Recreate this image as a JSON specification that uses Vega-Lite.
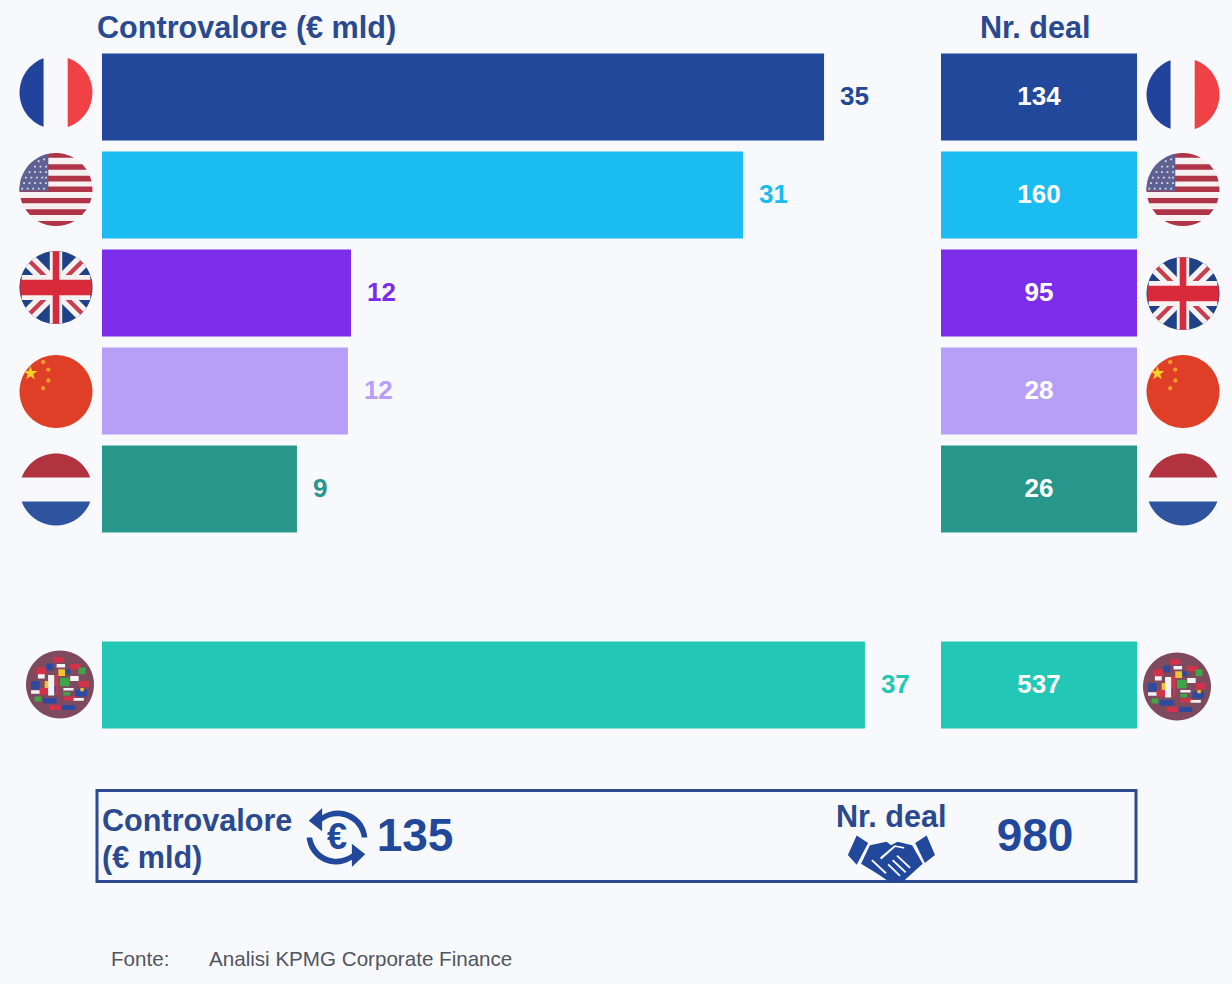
{"$schema":"https://vega.github.io/schema/vega-lite/v6.json","padding":{"left":0,"right":0,"top":14,"bottom":1.5},"spacing":0,"background":"#f8f9fd","config":{"view":{"stroke":null},"concat":{"spacing":0},"font":"Liberation Sans","text":{"font":"Liberation Sans"}},
"datasets":{
"rows":[{"paese":"Francia","controvalore":35.0,"deal":134},{"paese":"USA","controvalore":31.07,"deal":160},{"paese":"UK","controvalore":12.07,"deal":95},{"paese":"Cina","controvalore":11.92,"deal":28},{"paese":"Olanda","controvalore":9.45,"deal":26},{"paese":"Altri","controvalore":36.98,"deal":537}],
"flags":[{"paese":"Francia","parte":"fr_base"},{"paese":"Francia","parte":"fr_blu"},{"paese":"Francia","parte":"fr_rosso"},
{"paese":"USA","parte":"us_base"},{"paese":"USA","parte":"us_strisce"},{"paese":"USA","parte":"us_cantone"},{"paese":"USA","parte":"us_stelle"},
{"paese":"UK","parte":"uk_base"},{"paese":"UK","parte":"uk_diag_b"},{"paese":"UK","parte":"uk_diag_r"},{"paese":"UK","parte":"uk_croce_b"},{"paese":"UK","parte":"uk_croce_r"},
{"paese":"Cina","parte":"cn_base"},{"paese":"Cina","parte":"cn_stella"},{"paese":"Cina","parte":"cn_punti"},
{"paese":"Olanda","parte":"nl_base"},{"paese":"Olanda","parte":"nl_rosso"},{"paese":"Olanda","parte":"nl_blu"},
{"paese":"Altri","parte":"w_base"},{"paese":"Altri","parte":"w_rosso"},{"paese":"Altri","parte":"w_blu"},{"paese":"Altri","parte":"w_bianco"},{"paese":"Altri","parte":"w_verde"},{"paese":"Altri","parte":"w_giallo"}]
},
"vconcat":[
{"hconcat":[
{"width":940,"height":686,
"title":{"text":"Controvalore (€ mld)","anchor":"start","frame":"group","dx":97,"offset":3,"fontSize":30.6,"font":"Liberation Sans","fontWeight":"bold","color":"#2a4a8f"},
"layer":[
{"data":{"name":"rows"},"mark":{"type":"bar"},"encoding":{
"y":{"field":"paese","type":"nominal","axis":null,"sort":null,"scale":{"domain":["Francia","USA","UK","Cina","Olanda"," ","Altri"],"paddingInner":0.112,"paddingOuter":0.056}},
"x":{"field":"controvalore","type":"quantitative","axis":null,"scale":{"domain":[-4.944,40.62],"zero":false,"nice":false}},
"color":{"field":"paese","type":"nominal","legend":null,"scale":{"domain":["Francia","USA","UK","Cina","Olanda","Altri"],"range":["#21489a","#1bbcf2","#7c2dea","#b79ff8","#26978a","#22c7b5"]}}}},
{"data":{"name":"rows"},"mark":{"type":"text","align":"left","baseline":"middle","dx":16,"fontSize":26,"fontWeight":"bold"},"encoding":{
"y":{"field":"paese","type":"nominal"},
"x":{"field":"controvalore","type":"quantitative"},
"text":{"field":"controvalore","type":"quantitative","format":".0f"},
"color":{"field":"paese","type":"nominal","legend":null}}},
{"data":{"name":"flags"},
"encoding":{
"y":{"field":"paese","type":"nominal"},
"x":{"datum":-2.23,"type":"quantitative"},
"size":{"value":5329},
"fill":{"field":"parte","type":"nominal","legend":null,"scale":{"domain":["fr_base","fr_blu","fr_rosso","us_base","us_strisce","us_cantone","us_stelle","uk_base","uk_diag_b","uk_diag_r","uk_croce_b","uk_croce_r","cn_base","cn_stella","cn_punti","nl_base","nl_rosso","nl_blu","w_base","w_rosso","w_blu","w_bianco","w_verde","w_giallo"],"range":["#f8f8fd","#22439b","#ef4146","#f7f0f0","#b03448","#5d6292","#d8d9e6","#1f4287","#f6f2f2","#c8404f","#f6f2f2","#d92a3c","#df3f26","#f8d12a","#f29a2e","#f8f8fb","#b23340","#2e549f","#7d4a5e","#d2334a","#2b4aa0","#f2f2f2","#3fa648","#f0c22c"]}},
"shape":{"field":"parte","type":"nominal","legend":null,"scale":{"domain":["fr_base","fr_blu","fr_rosso","us_base","us_strisce","us_cantone","us_stelle","uk_base","uk_diag_b","uk_diag_r","uk_croce_b","uk_croce_r","cn_base","cn_stella","cn_punti","nl_base","nl_rosso","nl_blu","w_base","w_rosso","w_blu","w_bianco","w_verde","w_giallo"],"range":["M-1,0A1,1 0 1 1 1,0A1,1 0 1 1 -1,0Z","M-.34,-.94A1,1 0 0 0 -.34,.94Z","M.32,-.947A1,1 0 0 1 .32,.947Z","M-1,0A1,1 0 1 1 1,0A1,1 0 1 1 -1,0Z","M-.493,-.87A1,1 0 0 1 .493,-.87ZM-.724,-.69L.724,-.69L.842,-.54L-.842,-.54ZM-.927,-.375L.927,-.375L.975,-.22L-.975,-.22ZM-.997,-.08L.997,-.08L.998,.07L-.998,.07ZM-.973,.23L.973,.23L.927,.375L-.927,.375ZM-.842,.54L.842,.54L.714,.7L-.714,.7ZM-.51,.86A1,1 0 0 0 .51,.86Z","M-.21,-.977L-.21,.05L-.999,.05A1,1 0 0 1 -.21,-.977Z","M-.5,-.8h.05v.05h-.05zM-.35,-.85h.05v.05h-.05zM-.6,-.65h.05v.05h-.05zM-.45,-.65h.05v.05h-.05zM-.3,-.65h.05v.05h-.05zM-.75,-.5h.05v.05h-.05zM-.6,-.5h.05v.05h-.05zM-.45,-.5h.05v.05h-.05zM-.3,-.5h.05v.05h-.05zM-.85,-.35h.05v.05h-.05zM-.7,-.35h.05v.05h-.05zM-.55,-.35h.05v.05h-.05zM-.4,-.35h.05v.05h-.05zM-.3,-.35h.05v.05h-.05zM-.9,-.2h.05v.05h-.05zM-.75,-.2h.05v.05h-.05zM-.6,-.2h.05v.05h-.05zM-.45,-.2h.05v.05h-.05zM-.3,-.2h.05v.05h-.05zM-.95,-.05h.05v.05h-.05zM-.8,-.05h.05v.05h-.05zM-.65,-.05h.05v.05h-.05zM-.5,-.05h.05v.05h-.05zM-.35,-.05h.05v.05h-.05z","M-1,0A1,1 0 1 1 1,0A1,1 0 1 1 -1,0Z","M.834,.552A1,1 0 0 1 .552,.834L-.834,-.552A1,1 0 0 1 -.552,-.834ZM-.834,.552A1,1 0 0 0 -.552,.834L.834,-.552A1,1 0 0 0 .552,-.834Z","M.748,.664L.664,.748L-.748,-.664L-.664,-.748ZM-.748,.664L-.664,.748L.748,-.664L.664,-.748Z","M-.17,-.985L.17,-.985L.17,.985L-.17,.985ZM-.94,-.34L.94,-.34L.94,.34L-.94,.34Z","M-.09,-.996L.09,-.996L.09,.996L-.09,.996ZM-.977,-.21L.977,-.21L.977,.21L-.977,.21Z","M-1,0A1,1 0 1 1 1,0A1,1 0 1 1 -1,0Z","M-.70,-.70L-.653,-.565L-.51,-.562L-.624,-.475L-.582,-.338L-.70,-.42L-.818,-.338L-.776,-.475L-.89,-.562L-.747,-.565Z","M-.41,-.81a.06,.06 0 1 0 .12,0a.06,.06 0 1 0 -.12,0ZM-.27,-.6a.06,.06 0 1 0 .12,0a.06,.06 0 1 0 -.12,0ZM-.27,-.3a.06,.06 0 1 0 .12,0a.06,.06 0 1 0 -.12,0ZM-.41,-.09a.06,.06 0 1 0 .12,0a.06,.06 0 1 0 -.12,0Z","M-1,0A1,1 0 1 1 1,0A1,1 0 1 1 -1,0Z","M-.94,-.33A1,1 0 0 1 .94,-.33Z","M-.94,.33A1,1 0 0 0 .94,.33Z","M-1,0A1,1 0 1 1 1,0A1,1 0 1 1 -1,0Z","M-.7,-.5h.3v.2h-.3zM-.2,-.8h.3v.15h-.3zM.3,-.6h.3v.15h-.3zM-.6,.1h.25v.2h-.25zM.1,.35h.4v.12h-.4zM-.3,.6h.35v.15h-.35zM.55,-.1h.3v.18h-.3zM-.15,-.3h.1v.6h-.1z","M-.85,-.1h.25v.25h-.25zM-.4,-.62h.2v.2h-.2zM.1,-.45h.2v.15h-.2zM.45,.15h.35v.2h-.35zM-.5,.4h.4v.16h-.4zM.05,.6h.4v.15h-.4zM-.25,.05h.12v.2h-.12z","M-.85,.17h.25v.1h-.25zM-.35,-.28h.18v.6h-.18zM.3,-.25h.25v.15h-.25zM.4,.4h.3v.08h-.3zM-.65,-.3h.2v.12h-.2zM.1,.1h.3v.08h-.3zM-.1,-.6h.25v.1h-.25z","M0,-.2h.28v.25h-.28zM.55,-.5h.2v.2h-.2zM-.75,.35h.2v.15h-.2zM.1,.22h.2v.1h-.2z","M-.05,-.45h.2v.2h-.2zM-.45,-.1h.1v.2h-.1zM.6,.1h.1v.1h-.1z"]}}},
"layer":[
{"transform":[{"filter":{"field":"paese","oneOf":["Francia"]}}],"mark":{"type":"point","filled":true,"opacity":1,"strokeWidth":0,"yOffset":-4.5}},
{"transform":[{"filter":{"field":"paese","oneOf":["USA","UK"]}}],"mark":{"type":"point","filled":true,"opacity":1,"strokeWidth":0,"yOffset":-5.5}},
{"transform":[{"filter":{"field":"paese","oneOf":["Cina","Olanda"]}}],"mark":{"type":"point","filled":true,"opacity":1,"strokeWidth":0,"yOffset":0.5}},
{"transform":[{"filter":{"field":"paese","oneOf":["Altri"]}}],"mark":{"type":"point","filled":true,"opacity":1,"strokeWidth":0,"yOffset":-0.5},"encoding":{"x":{"datum":-2.036,"type":"quantitative"},"size":{"value":4624}}}
]}
]},
{"width":292,"height":686,
"title":{"text":"Nr. deal","anchor":"start","frame":"group","dx":40,"offset":3,"fontSize":30.6,"font":"Liberation Sans","fontWeight":"bold","color":"#2a4a8f"},
"layer":[
{"data":{"name":"rows"},"mark":{"type":"bar"},"encoding":{
"y":{"field":"paese","type":"nominal","axis":null,"sort":null,"scale":{"domain":["Francia","USA","UK","Cina","Olanda"," ","Altri"],"paddingInner":0.112,"paddingOuter":0.056}},
"x":{"datum":0,"type":"quantitative","axis":null,"scale":{"domain":[-0.0051,1.4847],"zero":false,"nice":false}},
"x2":{"datum":1},
"color":{"field":"paese","type":"nominal","legend":null,"scale":{"domain":["Francia","USA","UK","Cina","Olanda","Altri"],"range":["#21489a","#1bbcf2","#7c2dea","#b79ff8","#26978a","#22c7b5"]}}}},
{"data":{"name":"rows"},"mark":{"type":"text","align":"center","baseline":"middle","fontSize":26,"fontWeight":"bold","color":"#ffffff"},"encoding":{
"y":{"field":"paese","type":"nominal"},
"x":{"datum":0.5,"type":"quantitative"},
"text":{"field":"deal","type":"quantitative"}}},
{"data":{"name":"flags"},
"encoding":{
"y":{"field":"paese","type":"nominal"},
"x":{"datum":1.2347,"type":"quantitative"},
"size":{"value":5329},
"fill":{"field":"parte","type":"nominal","legend":null,"scale":{"domain":["fr_base","fr_blu","fr_rosso","us_base","us_strisce","us_cantone","us_stelle","uk_base","uk_diag_b","uk_diag_r","uk_croce_b","uk_croce_r","cn_base","cn_stella","cn_punti","nl_base","nl_rosso","nl_blu","w_base","w_rosso","w_blu","w_bianco","w_verde","w_giallo"],"range":["#f8f8fd","#22439b","#ef4146","#f7f0f0","#b03448","#5d6292","#d8d9e6","#1f4287","#f6f2f2","#c8404f","#f6f2f2","#d92a3c","#df3f26","#f8d12a","#f29a2e","#f8f8fb","#b23340","#2e549f","#7d4a5e","#d2334a","#2b4aa0","#f2f2f2","#3fa648","#f0c22c"]}},
"shape":{"field":"parte","type":"nominal","legend":null,"scale":{"domain":["fr_base","fr_blu","fr_rosso","us_base","us_strisce","us_cantone","us_stelle","uk_base","uk_diag_b","uk_diag_r","uk_croce_b","uk_croce_r","cn_base","cn_stella","cn_punti","nl_base","nl_rosso","nl_blu","w_base","w_rosso","w_blu","w_bianco","w_verde","w_giallo"],"range":["M-1,0A1,1 0 1 1 1,0A1,1 0 1 1 -1,0Z","M-.34,-.94A1,1 0 0 0 -.34,.94Z","M.32,-.947A1,1 0 0 1 .32,.947Z","M-1,0A1,1 0 1 1 1,0A1,1 0 1 1 -1,0Z","M-.493,-.87A1,1 0 0 1 .493,-.87ZM-.724,-.69L.724,-.69L.842,-.54L-.842,-.54ZM-.927,-.375L.927,-.375L.975,-.22L-.975,-.22ZM-.997,-.08L.997,-.08L.998,.07L-.998,.07ZM-.973,.23L.973,.23L.927,.375L-.927,.375ZM-.842,.54L.842,.54L.714,.7L-.714,.7ZM-.51,.86A1,1 0 0 0 .51,.86Z","M-.21,-.977L-.21,.05L-.999,.05A1,1 0 0 1 -.21,-.977Z","M-.5,-.8h.05v.05h-.05zM-.35,-.85h.05v.05h-.05zM-.6,-.65h.05v.05h-.05zM-.45,-.65h.05v.05h-.05zM-.3,-.65h.05v.05h-.05zM-.75,-.5h.05v.05h-.05zM-.6,-.5h.05v.05h-.05zM-.45,-.5h.05v.05h-.05zM-.3,-.5h.05v.05h-.05zM-.85,-.35h.05v.05h-.05zM-.7,-.35h.05v.05h-.05zM-.55,-.35h.05v.05h-.05zM-.4,-.35h.05v.05h-.05zM-.3,-.35h.05v.05h-.05zM-.9,-.2h.05v.05h-.05zM-.75,-.2h.05v.05h-.05zM-.6,-.2h.05v.05h-.05zM-.45,-.2h.05v.05h-.05zM-.3,-.2h.05v.05h-.05zM-.95,-.05h.05v.05h-.05zM-.8,-.05h.05v.05h-.05zM-.65,-.05h.05v.05h-.05zM-.5,-.05h.05v.05h-.05zM-.35,-.05h.05v.05h-.05z","M-1,0A1,1 0 1 1 1,0A1,1 0 1 1 -1,0Z","M.834,.552A1,1 0 0 1 .552,.834L-.834,-.552A1,1 0 0 1 -.552,-.834ZM-.834,.552A1,1 0 0 0 -.552,.834L.834,-.552A1,1 0 0 0 .552,-.834Z","M.748,.664L.664,.748L-.748,-.664L-.664,-.748ZM-.748,.664L-.664,.748L.748,-.664L.664,-.748Z","M-.17,-.985L.17,-.985L.17,.985L-.17,.985ZM-.94,-.34L.94,-.34L.94,.34L-.94,.34Z","M-.09,-.996L.09,-.996L.09,.996L-.09,.996ZM-.977,-.21L.977,-.21L.977,.21L-.977,.21Z","M-1,0A1,1 0 1 1 1,0A1,1 0 1 1 -1,0Z","M-.70,-.70L-.653,-.565L-.51,-.562L-.624,-.475L-.582,-.338L-.70,-.42L-.818,-.338L-.776,-.475L-.89,-.562L-.747,-.565Z","M-.41,-.81a.06,.06 0 1 0 .12,0a.06,.06 0 1 0 -.12,0ZM-.27,-.6a.06,.06 0 1 0 .12,0a.06,.06 0 1 0 -.12,0ZM-.27,-.3a.06,.06 0 1 0 .12,0a.06,.06 0 1 0 -.12,0ZM-.41,-.09a.06,.06 0 1 0 .12,0a.06,.06 0 1 0 -.12,0Z","M-1,0A1,1 0 1 1 1,0A1,1 0 1 1 -1,0Z","M-.94,-.33A1,1 0 0 1 .94,-.33Z","M-.94,.33A1,1 0 0 0 .94,.33Z","M-1,0A1,1 0 1 1 1,0A1,1 0 1 1 -1,0Z","M-.7,-.5h.3v.2h-.3zM-.2,-.8h.3v.15h-.3zM.3,-.6h.3v.15h-.3zM-.6,.1h.25v.2h-.25zM.1,.35h.4v.12h-.4zM-.3,.6h.35v.15h-.35zM.55,-.1h.3v.18h-.3zM-.15,-.3h.1v.6h-.1z","M-.85,-.1h.25v.25h-.25zM-.4,-.62h.2v.2h-.2zM.1,-.45h.2v.15h-.2zM.45,.15h.35v.2h-.35zM-.5,.4h.4v.16h-.4zM.05,.6h.4v.15h-.4zM-.25,.05h.12v.2h-.12z","M-.85,.17h.25v.1h-.25zM-.35,-.28h.18v.6h-.18zM.3,-.25h.25v.15h-.25zM.4,.4h.3v.08h-.3zM-.65,-.3h.2v.12h-.2zM.1,.1h.3v.08h-.3zM-.1,-.6h.25v.1h-.25z","M0,-.2h.28v.25h-.28zM.55,-.5h.2v.2h-.2zM-.75,.35h.2v.15h-.2zM.1,.22h.2v.1h-.2z","M-.05,-.45h.2v.2h-.2zM-.45,-.1h.1v.2h-.1zM.6,.1h.1v.1h-.1z"]}}},
"layer":[
{"transform":[{"filter":{"field":"paese","oneOf":["Francia"]}}],"mark":{"type":"point","filled":true,"opacity":1,"strokeWidth":0,"yOffset":-2.5}},
{"transform":[{"filter":{"field":"paese","oneOf":["USA"]}}],"mark":{"type":"point","filled":true,"opacity":1,"strokeWidth":0,"yOffset":-5.5}},
{"transform":[{"filter":{"field":"paese","oneOf":["UK","Cina","Olanda"]}}],"mark":{"type":"point","filled":true,"opacity":1,"strokeWidth":0,"yOffset":0.5}},
{"transform":[{"filter":{"field":"paese","oneOf":["Altri"]}}],"mark":{"type":"point","filled":true,"opacity":1,"strokeWidth":0,"yOffset":1.5},"encoding":{"x":{"datum":1.204,"type":"quantitative"},"size":{"value":4624}}}
]}
]}
],"spacing":0},
{"width":1232,"height":249.5,
"encoding":{
"x":{"datum":0,"type":"quantitative","axis":null,"scale":{"domain":[0,1232],"zero":false,"nice":false}},
"y":{"datum":800,"type":"quantitative","axis":null,"scale":{"domain":[984,734.5],"zero":false,"nice":false}}},
"layer":[
{"data":{"values":[{"riquadro":"totali"}]},"mark":{"type":"rect","fillOpacity":0,"stroke":"#2c4b90","strokeWidth":3},"encoding":{"x":{"datum":97},"x2":{"datum":1136},"y":{"datum":791},"y2":{"datum":882}}},
{"data":{"values":[{"t":"Controvalore"}]},"mark":{"type":"text","align":"left","baseline":"alphabetic","fontSize":30.6,"fontWeight":"bold","color":"#2a4a8f"},"encoding":{"x":{"datum":102},"y":{"datum":831},"text":{"field":"t"}}},
{"data":{"values":[{"t":"(€ mld)"}]},"mark":{"type":"text","align":"left","baseline":"alphabetic","fontSize":30.6,"fontWeight":"bold","color":"#2a4a8f"},"encoding":{"x":{"datum":102},"y":{"datum":868},"text":{"field":"t"}}},
{"data":{"values":[{"t":135}]},"mark":{"type":"text","align":"center","baseline":"alphabetic","fontSize":46,"fontWeight":"bold","color":"#21489a"},"encoding":{"x":{"datum":415},"y":{"datum":851},"text":{"field":"t"}}},
{"data":{"values":[{"t":"Nr. deal"}]},"mark":{"type":"text","align":"left","baseline":"alphabetic","fontSize":30.6,"fontWeight":"bold","color":"#2a4a8f"},"encoding":{"x":{"datum":836},"y":{"datum":827},"text":{"field":"t"}}},
{"data":{"values":[{"t":980}]},"mark":{"type":"text","align":"center","baseline":"alphabetic","fontSize":46,"fontWeight":"bold","color":"#21489a"},"encoding":{"x":{"datum":1035},"y":{"datum":851},"text":{"field":"t"}}},
{"data":{"values":[{"t":"€"}]},"mark":{"type":"text","align":"center","baseline":"middle","fontSize":36,"fontWeight":"bold","color":"#21489a"},"encoding":{"x":{"datum":337},"y":{"datum":838},"text":{"field":"t"}}},
{"data":{"values":[{"icona":"frecce"}]},"mark":{"type":"point","filled":true,"opacity":1,"strokeWidth":0,"color":"#21489a","size":3844,"shape":"M-.91,-.54L-.48,-.95L-.48,-.72A.95,.95 0 0 1 .98,0L.8,0A.8,.8 0 0 0 -.48,-.52L-.48,-.2ZM.91,.54L.48,.95L.48,.72A.95,.95 0 0 1 -.98,0L-.8,0A.8,.8 0 0 0 .48,.52L.48,.2Z"},"encoding":{"x":{"datum":337},"y":{"datum":838}}},
{"data":{"values":[{"icona":"stretta"}]},"mark":{"type":"point","filled":true,"opacity":1,"strokeWidth":0,"color":"#21489a","size":7744,"shape":"M-.78,-.52L-.52,-.35L-.78,.14L-.98,-.08ZM.81,-.52L1,-.08L.77,.1L.55,-.35ZM-.48,-.3L-.1,-.38L0,-.3L.15,-.38L.48,-.3L.72,.12L.3,.5L.12,.55L-.05,.52L-.3,.35L-.68,.12Z"},"encoding":{"x":{"datum":891},"y":{"datum":859}}},
{"data":{"values":[{"icona":"dita"}]},"mark":{"type":"point","filled":true,"opacity":1,"strokeWidth":0,"color":"#f8f9fd","size":7744,"shape":"M.05,.02L.35,.3L.32,.33L.02,.05ZM-.05,.12L.22,.38L.19,.41L-.08,.15ZM.15,-.08L.45,.2L.42,.23L.12,-.05ZM-.25,-.02L.08,-.3L.3,-.26L.3,-.22L.1,-.26L-.22,.02ZM-.42,.02L-.1,.32L-.13,.35L-.45,.05Z"},"encoding":{"x":{"datum":891},"y":{"datum":859}}},
{"data":{"values":[{"t":"Fonte:"}]},"mark":{"type":"text","align":"left","baseline":"alphabetic","fontSize":20.6,"color":"#505560"},"encoding":{"x":{"datum":111},"y":{"datum":966},"text":{"field":"t"}}},
{"data":{"values":[{"t":"Analisi KPMG Corporate Finance"}]},"mark":{"type":"text","align":"left","baseline":"alphabetic","fontSize":20.6,"color":"#505560"},"encoding":{"x":{"datum":209},"y":{"datum":966},"text":{"field":"t"}}}
]}
]}
